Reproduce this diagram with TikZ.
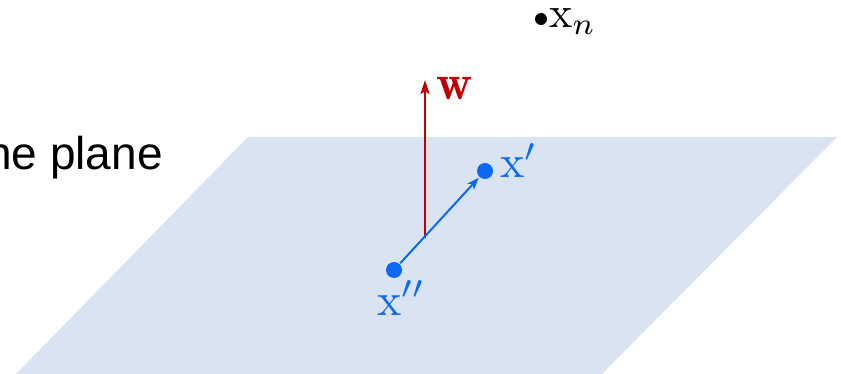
\documentclass[tikz,border=0pt]{standalone}
\usepackage{fontspec}
\usepackage{graphicx}
\setsansfont{Liberation Sans}
\usetikzlibrary{arrows.meta}
\definecolor{planeblue}{HTML}{DAE3F1}
\definecolor{ptblue}{HTML}{0A6AF5}
\definecolor{wred}{HTML}{C00000}
\newcommand{\plabel}[2]{\scalebox{#1}{$#2$}}

\begin{document}
\begin{tikzpicture}[x=1pt, y=-1pt,
  dot/.style={circle, fill=ptblue, inner sep=0pt, minimum size=16pt},
  lbl/.style={anchor=base west, inner sep=0pt}]
\useasboundingbox (0,0) rectangle (841,374);
\clip (0,0) rectangle (841,374);
% plane
\fill[planeblue] (248,137) -- (837,137) -- (602,374) -- (16,374) -- cycle;
\node[anchor=base west, inner sep=0pt, font=\sffamily\fontsize{46}{52}\selectfont]
  (plane) at (-14,170) {ne plane};
% normal vector
\coordinate (wbase) at (425,238);
\coordinate (wtip) at (425,80);
\draw[wred, line width=2.6pt, -{Stealth[length=14pt,width=9pt,inset=3pt]}] (wbase) -- (wtip);
\node[lbl, text=wred] (wlbl) at (436,100) {\plabel{5.0}{\mathbf{w}}};
% points on the plane
\node[dot] (xpp) at (394,270) {};
\node[dot] (xp) at (485,171) {};
\draw[ptblue, line width=2pt, -{Stealth[length=12pt,width=9pt,inset=3pt]},
  shorten <=1pt, shorten >=1pt] (xpp) -- (xp);
\node[lbl, text=ptblue] (xplbl) at (500,178) {\plabel{4.6}{\mathrm{x}'}};
\node[lbl, text=ptblue] (xpplbl) at (377,315) {\plabel{4.6}{\mathrm{x}''}};
% point off the plane
\node[circle, fill=black, inner sep=0pt, minimum size=12pt] (xn) at (541,19) {};
\node[lbl] (xnlbl) at (549,28) {\plabel{4.4}{\mathrm{x}_n}};
\end{tikzpicture}
\end{document}
